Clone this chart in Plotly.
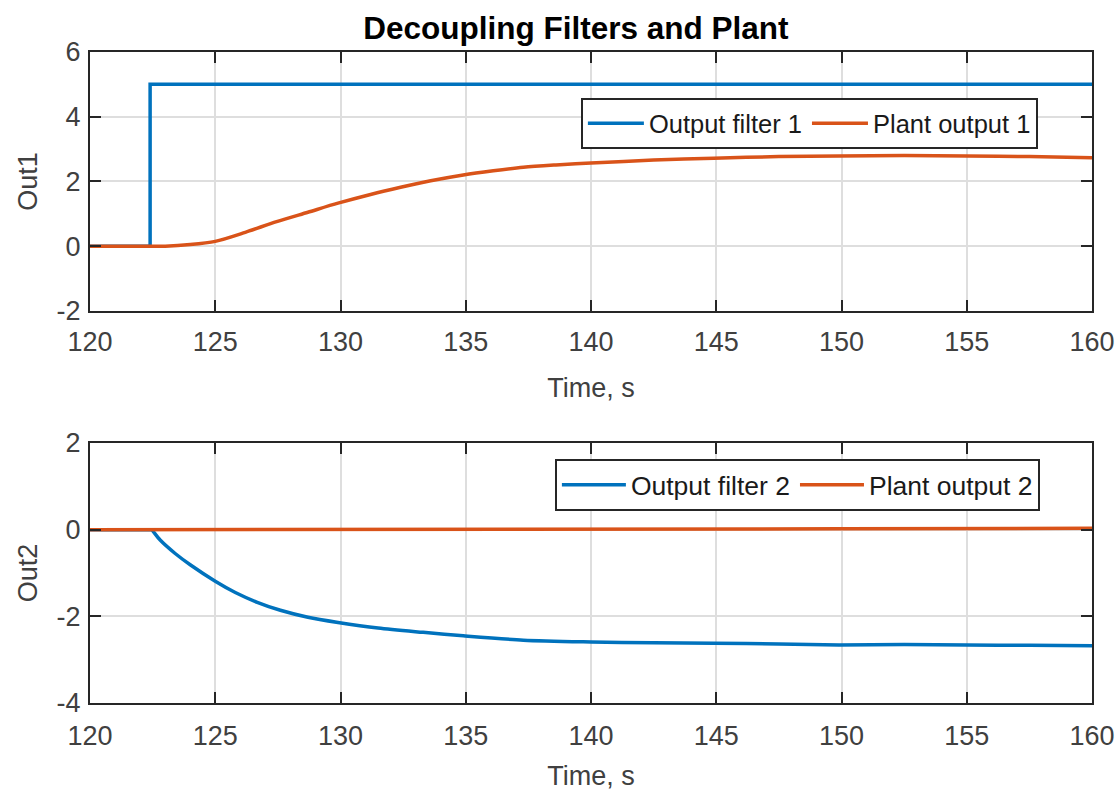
import plotly.graph_objects as go

# ---- data ----
t_filter1 = [120, 122.4, 122.4, 160]
y_filter1 = [0, 0, 5, 5]

t_plant1 = [120, 122.4, 122.41, 123.0, 124.0, 125.0, 126.2, 127.45, 128.7, 129.9, 131.2, 132.4, 133.6,
            134.9, 136.1, 137.3, 138.6, 140.0, 142.5, 144.9, 147.5, 149.9, 152.5, 155.0, 157.5, 160.0]
y_plant1 = [0, 0, 0, 0.0, 0.05, 0.15, 0.43, 0.76, 1.05, 1.33, 1.6, 1.82, 2.02,
            2.2, 2.33, 2.44, 2.51, 2.57, 2.66, 2.72, 2.77, 2.79, 2.8, 2.79, 2.77, 2.73]

t_filter2 = [120, 122.45, 122.46, 122.8, 123.4, 124.0, 125.0, 125.8, 126.65, 127.6, 128.7, 129.9, 131.5,
             133.3, 134.9, 137.3, 140.0, 142.5, 144.9, 147.5, 149.9, 152.5, 155.0, 157.5, 160.0]
y_filter2 = [0, 0, 0, -0.24, -0.55, -0.81, -1.19, -1.45, -1.67, -1.86, -2.02, -2.14, -2.27,
             -2.37, -2.45, -2.55, -2.59, -2.61, -2.62, -2.64, -2.66, -2.65, -2.66, -2.67, -2.68]

t_plant2 = [120, 130, 140, 150, 160]
y_plant2 = [0, 0.0, 0.01, 0.02, 0.03]

x_ticks = [120, 125, 130, 135, 140, 145, 150, 155, 160]
y1_ticks = [-2, 0, 2, 4, 6]
y1_labels = ["-2", "0", "2", "4", "6"]
y2_ticks = [-4, -2, 0, 2]
y2_labels = ["-4", "-2", "0", "2"]

BLUE = "#0072BD"
ORANGE = "#D95319"
AX = "#262626"
TXT = "#404040"
FONT = "Liberation Sans, Arial, sans-serif"

fig = go.Figure()
fig.add_trace(go.Scatter(x=t_filter1, y=y_filter1, mode="lines", name="Output filter 1",
                         line=dict(color=BLUE, width=3.5), xaxis="x", yaxis="y", legend="legend"))
fig.add_trace(go.Scatter(x=t_plant1, y=y_plant1, mode="lines", name="Plant output 1",
                         line=dict(color=ORANGE, width=3.5, shape="spline", smoothing=0.8),
                         xaxis="x", yaxis="y", legend="legend"))
fig.add_trace(go.Scatter(x=t_filter2, y=y_filter2, mode="lines", name="Output filter 2",
                         line=dict(color=BLUE, width=3.5, shape="spline", smoothing=0.8),
                         xaxis="x2", yaxis="y2", legend="legend2"))
fig.add_trace(go.Scatter(x=t_plant2, y=y_plant2, mode="lines", name="Plant output 2",
                         line=dict(color=ORANGE, width=3.5), xaxis="x2", yaxis="y2",
                         legend="legend2"))

axis_common = dict(showline=True, linecolor=AX, linewidth=2, mirror="allticks",
                   ticks="inside", ticklen=11, tickwidth=2, tickcolor=AX,
                   showgrid=True, gridcolor="#DEDEDE", gridwidth=1.5, zeroline=False,
                   automargin=False,
                   tickfont=dict(family=FONT, size=27, color=TXT))

xtitle = dict(text="Time, s", font=dict(family=FONT, size=27, color=TXT), standoff=22)

fig.update_layout(
    width=1116, height=791,
    margin=dict(l=90, r=24, t=52, b=88),
    plot_bgcolor="white", paper_bgcolor="white",
    showlegend=True,
    title=dict(text="<b>Decoupling Filters and Plant</b>", x=0.516, xanchor="center",
               y=0.965, yanchor="middle",
               font=dict(family=FONT, size=31.5, color="#000000")),
    xaxis=dict(domain=[0, 1], range=[120, 160], tickvals=x_ticks, anchor="y",
               ticklabelstandoff=6, title=xtitle, **axis_common),
    yaxis=dict(domain=[0.6022, 1], range=[-2, 6], tickvals=y1_ticks, ticktext=y1_labels,
               anchor="x", ticklabelstandoff=2,
               title=dict(text="Out1", font=dict(family=FONT, size=27, color=TXT), standoff=11),
               **axis_common),
    xaxis2=dict(domain=[0, 1], range=[120, 160], tickvals=x_ticks, anchor="y2",
                ticklabelstandoff=8, title=xtitle, **axis_common),
    yaxis2=dict(domain=[0, 0.3994], range=[-4, 2], tickvals=y2_ticks, ticktext=y2_labels,
                anchor="x2", ticklabelstandoff=2,
                title=dict(text="Out2", font=dict(family=FONT, size=27, color=TXT), standoff=11),
                **axis_common),
    legend=dict(x=0.946, y=0.929, xanchor="right", yanchor="top", orientation="h",
                bgcolor="white", bordercolor=AX, borderwidth=2, itemwidth=56,
                font=dict(family=FONT, size=25.5, color="#1a1a1a")),
    legend2=dict(x=0.948, y=0.3748, xanchor="right", yanchor="top", orientation="h",
                 bgcolor="white", bordercolor=AX, borderwidth=2, itemwidth=64,
                 font=dict(family=FONT, size=26.5, color="#1a1a1a")),
)

fig.write_html("out.html")
